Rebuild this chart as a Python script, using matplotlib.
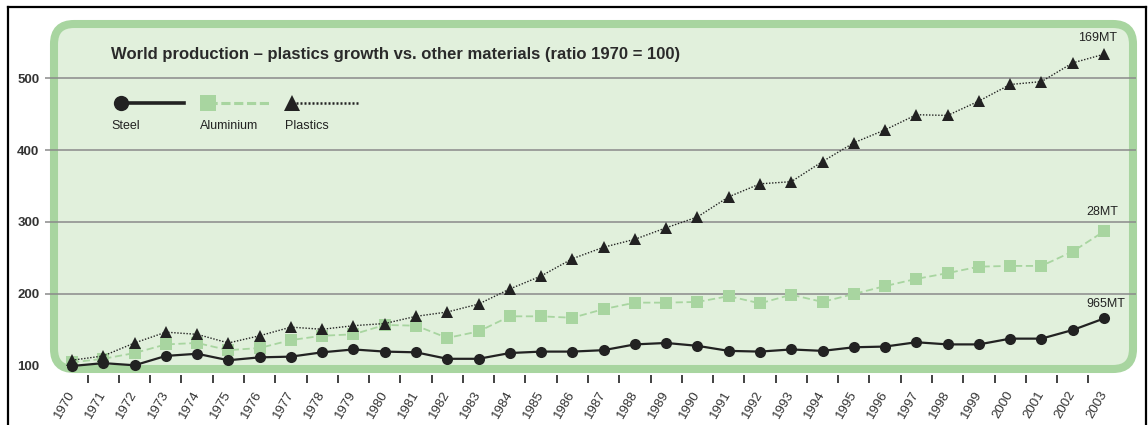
import numpy as np
import matplotlib
matplotlib.use("Agg")
import matplotlib.pyplot as plt
from matplotlib.patches import FancyBboxPatch
from matplotlib.lines import Line2D

# Daten (Index 1970 = 100)
years = list(range(1970, 2004))
steel = [100, 104, 101, 114, 117, 108, 112, 113, 119, 123, 120, 119, 110, 110,
         118, 120, 120, 122, 130, 132, 128, 121, 120, 123, 121, 126, 127, 133,
         130, 130, 138, 138, 150, 166]
aluminium = [105, 110, 118, 130, 132, 122, 125, 136, 142, 144, 157, 156, 139, 148,
             169, 169, 167, 179, 188, 188, 189, 197, 187, 199, 189, 200, 211, 221,
             229, 238, 239, 239, 259, 287]
plastics = [108, 114, 132, 147, 144, 132, 142, 154, 151, 156, 159, 169, 175, 186,
            207, 225, 249, 265, 276, 292, 307, 335, 353, 356, 384, 410, 428, 449,
            448, 468, 491, 495, 521, 533]
y_ticks = [100, 200, 300, 400, 500]
end_labels = {"Plastics": "169MT", "Aluminium": "28MT", "Steel": "965MT"}

W, H = 1148, 425
FONT = ["Liberation Sans Narrow", "Liberation Sans", "DejaVu Sans"]
plt.rcParams["font.family"] = FONT

GREEN = "#a8d5a0"
FILL = "#e1f0dc"
DARK = "#222222"


def fx(px):
    return px / W


def fy(py):
    return 1 - py / H


fig = plt.figure(figsize=(W / 100, H / 100), dpi=100)
fig.patch.set_facecolor("white")

# gruene Box mit runden Ecken
box = FancyBboxPatch((0.54, (H - 369) / 100), (1133 - 54) / 100, (369 - 24) / 100,
                     boxstyle="round,pad=0,rounding_size=0.2",
                     transform=fig.dpi_scale_trans, facecolor=FILL,
                     edgecolor=GREEN, linewidth=5.8, zorder=-1)
fig.patches.append(box)

ax = fig.add_axes([fx(45), fy(375), fx(1136) - fx(45), fy(20) - fy(375)])
ax.set_facecolor("none")
px_per_year = (1104 - 72) / 33
ax.set_xlim(1970 - 27 / px_per_year, 2003 + 32 / px_per_year)
ax.set_ylim(100 - 9 / 0.72, 100 + 346 / 0.72)
for s in ax.spines.values():
    s.set_visible(False)

ax.set_yticks(y_ticks)
ax.set_yticklabels([str(v) for v in y_ticks], fontsize=9.5, fontweight="bold",
                   color="#333333")
ax.grid(axis="y", color="#8a8a8a", linewidth=1.1)
ax.yaxis.get_gridlines()[0].set_visible(False)
ax.tick_params(axis="y", length=0, pad=4)

ax.set_xticks(years)
ax.set_xticklabels([str(y) for y in years], rotation=60, ha="right", va="center",
                   rotation_mode="anchor", fontsize=9.5, color="#333333")
ax.set_xticks([y + 0.5 for y in years[:-1]], minor=True)
ax.tick_params(axis="x", which="major", length=0, pad=12)
ax.tick_params(axis="x", which="minor", length=6, width=1.3, color="#333333",
               direction="out")

ax.plot(years, aluminium, color=GREEN, linestyle=(0, (4, 2)), linewidth=1.3,
        marker="s", markersize=8.5, markeredgewidth=0, clip_on=False, zorder=3)
ax.plot(years, steel, color=DARK, linewidth=1.6, marker="o", markersize=8,
        markeredgewidth=0, clip_on=False, zorder=4)
ax.plot(years, plastics, color=DARK, linestyle=(0, (1, 1.2)), linewidth=1.0,
        marker="^", markersize=8.5, markeredgewidth=0, clip_on=False, zorder=4)

ax.annotate(end_labels["Plastics"], (years[-1], plastics[-1]), xytext=(-6, 10),
            textcoords="offset pixels", ha="center", va="bottom", fontsize=9,
            color=DARK)
ax.annotate(end_labels["Aluminium"], (years[-1], aluminium[-1]), xytext=(-2, 13),
            textcoords="offset pixels", ha="center", va="bottom", fontsize=9,
            color=DARK)
ax.annotate(end_labels["Steel"], (years[-1], steel[-1]), xytext=(2, 8),
            textcoords="offset pixels", ha="center", va="bottom", fontsize=9,
            color=DARK)

# Titel
fig.text(fx(111), fy(55), "World production \u2013 plastics growth vs. other materials (ratio 1970 = 100)",
         fontsize=12, fontweight="bold", color="#2a2a2a", va="center", ha="left")

# Legende (Text unter den Symbolen)
leg_y = fy(103)
fig.lines.append(Line2D([fx(121), fx(184)], [leg_y, leg_y], transform=fig.transFigure,
                        color=DARK, linewidth=2.6, marker="o", markersize=11,
                        markevery=[0], markeredgewidth=0))
fig.lines.append(Line2D([fx(208), fx(271)], [leg_y, leg_y], transform=fig.transFigure,
                        color=GREEN, linestyle=(0, (3, 1.2)), linewidth=2.2,
                        marker="s", markersize=11, markevery=[0], markeredgewidth=0))
fig.lines.append(Line2D([fx(292), fx(358)], [leg_y, leg_y], transform=fig.transFigure,
                        color=DARK, linestyle=(0, (0.8, 0.8)), linewidth=1.8,
                        marker="^", markersize=11, markevery=[0], markeredgewidth=0))
for lx, name in [(111, "Steel"), (200, "Aluminium"), (285, "Plastics")]:
    fig.text(fx(lx), fy(126), name, fontsize=9, color=DARK, va="center", ha="left")

# schwarzer Rahmen
frame = dict(transform=fig.transFigure, color="black", linewidth=1.6, zorder=10)
fig.lines.append(Line2D([fx(8), fx(8)], [0, fy(7)], **frame))
fig.lines.append(Line2D([fx(8), fx(1146)], [fy(7), fy(7)], **frame))
fig.lines.append(Line2D([fx(1146), fx(1146)], [fy(7), 0], **frame))

fig.savefig("out.png", dpi=100)
